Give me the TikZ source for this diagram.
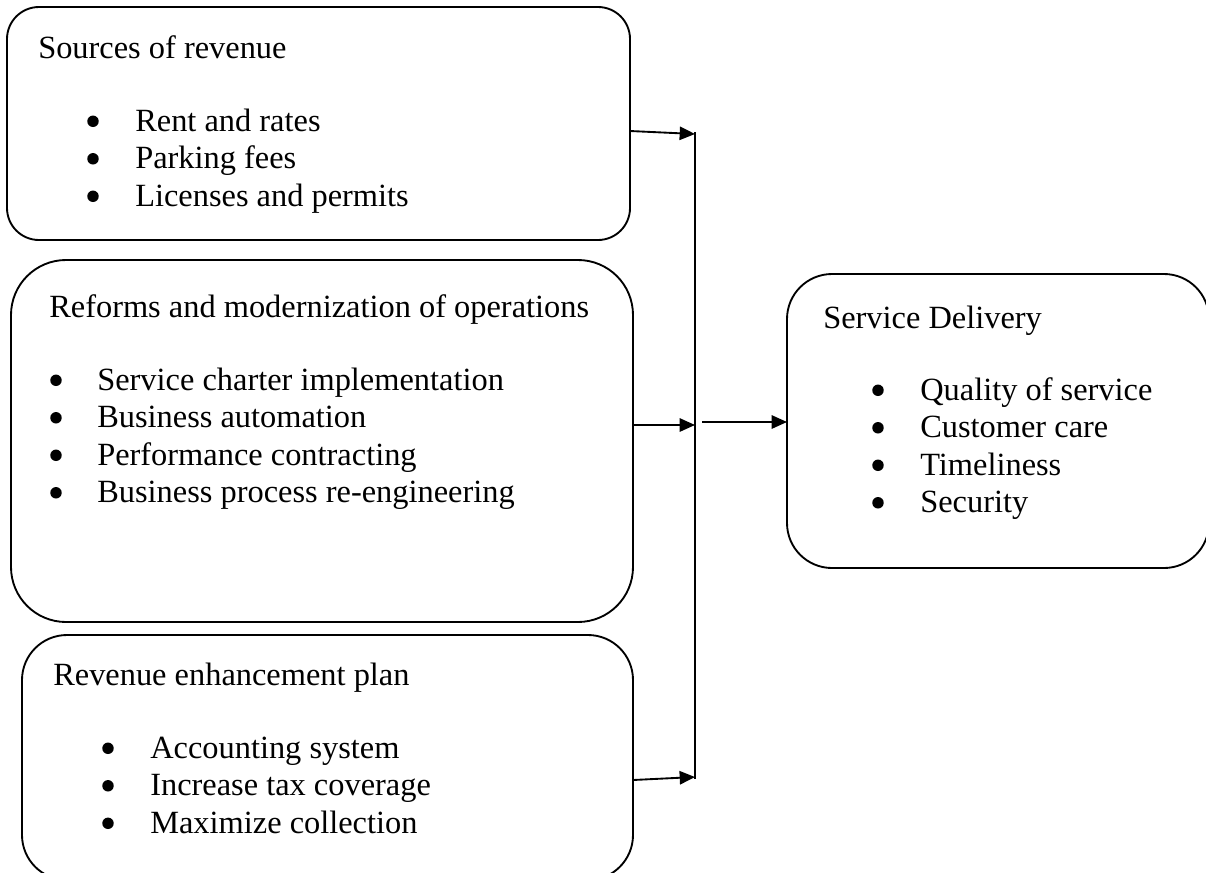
\documentclass[tikz,border=0pt]{standalone}
\usepackage{fontspec}
\setmainfont{Liberation Serif}
\usetikzlibrary{arrows.meta}
\begin{document}
\begin{tikzpicture}[x=0.75pt,y=-0.75pt,
  box/.style={draw,line width=1.4pt,inner sep=0pt,outer sep=0pt},
  txt/.style={anchor=base west,inner sep=0pt,font=\fontsize{24.3}{28}\selectfont},
  bul/.style={circle,fill,inner sep=0pt,minimum size=8.6pt,yshift=7.3pt},
  conn/.style={line width=1.4pt,-{Triangle[length=11.5pt,width=10pt]}},
  vline/.style={line width=1.4pt}]
\useasboundingbox (0,0) rectangle (1206,872);
% boxes
\node[box,minimum width=467.25pt,minimum height=174.75pt,rounded corners=24pt] (b1) at (318.5,123.5) {};
\node[box,minimum width=466.5pt,minimum height=271.5pt,rounded corners=41.25pt] (b2) at (322,441) {};
\node[box,minimum width=458.25pt,minimum height=183.75pt,rounded corners=33.75pt] (b3) at (327.5,757.5) {};
\node[box,minimum width=316.5pt,minimum height=220.5pt,rounded corners=33.75pt] (b4) at (998,421) {};
% box 1 text
\node[txt] (t1) at (38,58) {Sources of revenue};
\node[bul] (t1b1) at (93,131) {}; \node[txt] (t1i1) at (135,131) {Rent and rates};
\node[bul] (t1b2) at (93,168.5) {}; \node[txt] (t1i2) at (135,168.5) {Parking fees};
\node[bul] (t1b3) at (93,206) {}; \node[txt] (t1i3) at (135,206) {Licenses and permits};
% box 2 text
\node[txt] (t2) at (49,317) {Reforms and modernization of operations};
\node[bul] (t2b1) at (56,390) {}; \node[txt] (t2i1) at (97,390) {Service charter implementation};
\node[bul] (t2b2) at (56,427.5) {}; \node[txt] (t2i2) at (97,427.5) {Business automation};
\node[bul] (t2b3) at (56,465) {}; \node[txt] (t2i3) at (97,465) {Performance contracting};
\node[bul] (t2b4) at (56,502.5) {}; \node[txt] (t2i4) at (97,502.5) {Business process re-engineering};
% box 3 text
\node[txt] (t3) at (53,685) {Revenue enhancement plan};
\node[bul] (t3b1) at (108,758) {}; \node[txt] (t3i1) at (150,758) {Accounting system};
\node[bul] (t3b2) at (108,795.5) {}; \node[txt] (t3i2) at (150,795.5) {Increase tax coverage};
\node[bul] (t3b3) at (108,833) {}; \node[txt] (t3i3) at (150,833) {Maximize collection};
% box 4 text
\node[txt] (t4) at (823,328) {Service Delivery};
\node[bul] (t4b1) at (878,400) {}; \node[txt] (t4i1) at (920,400) {Quality of service};
\node[bul] (t4b2) at (878,437.5) {}; \node[txt] (t4i2) at (920,437.5) {Customer care};
\node[bul] (t4b3) at (878,475) {}; \node[txt] (t4i3) at (920,475) {Timeliness};
\node[bul] (t4b4) at (878,512.5) {}; \node[txt] (t4i4) at (920,512.5) {Security};
% connectors
\coordinate (vtop) at (695,132);
\coordinate (vbot) at (695,779);
\coordinate (o1) at (630,131);
\coordinate (i1) at (695,134);
\coordinate (o2) at (633,425);
\coordinate (i2) at (695,425);
\coordinate (o3) at (633,780);
\coordinate (i3) at (695,777);
\coordinate (o4) at (702,422);
\draw[vline] (vtop) -- (vbot);
\draw[conn] (o1) -- (i1);
\draw[conn] (o2) -- (i2);
\draw[conn] (o3) -- (i3);
\draw[conn] (o4) -- (b4.west |- o4);
\end{tikzpicture}
\end{document}
